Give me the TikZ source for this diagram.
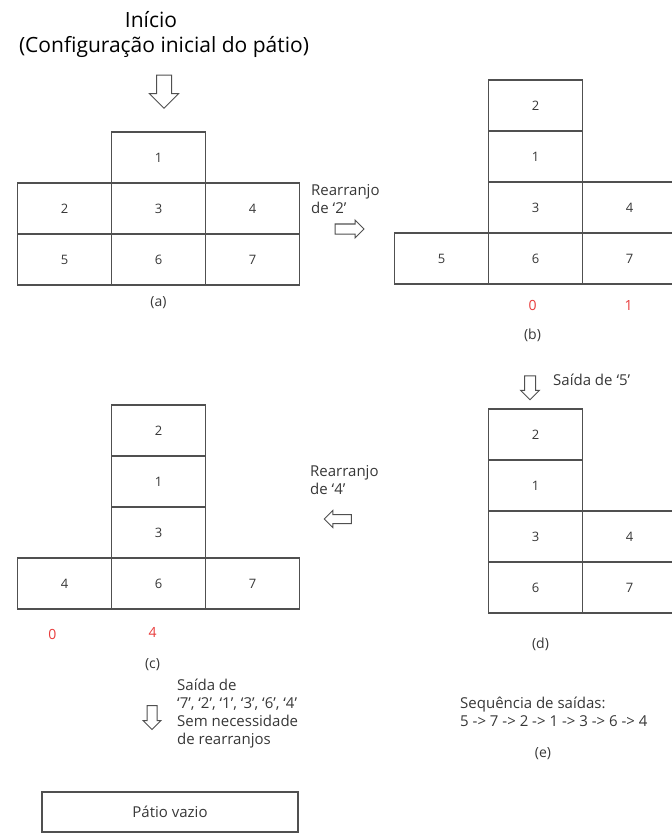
\documentclass[tikz,border=0pt]{standalone}
\usepackage{fontspec}
\setmainfont{Open Sans}
\usetikzlibrary{positioning,shapes.arrows}
\definecolor{gridgray}{RGB}{80,80,80}
\definecolor{txtgray}{RGB}{55,55,55}
\definecolor{cntred}{RGB}{232,60,60}

\begin{document}
\begin{tikzpicture}[x=1pt,y=-1pt,node distance=0pt,
  cell/.style={draw=gridgray, line width=1.3pt, minimum width=94pt, minimum height=51pt, inner sep=0pt, outer sep=0pt, text=txtgray, font=\fontsize{13}{15}\selectfont},
  note/.style={align=left, anchor=west, inner sep=0pt, text=txtgray, font=\fontsize{15}{18}\selectfont},
  lbl/.style={text=txtgray, font=\fontsize{14}{16}\selectfont},
  cnt/.style={text=cntred, font=\fontsize{14}{16}\selectfont},
  blk/.style={single arrow, draw=gridgray, fill=white, line width=1pt, inner xsep=0pt, inner ysep=4.5pt, single arrow head extend=4pt},
  blkdown/.style={blk, shape border rotate=270, inner ysep=0pt, inner xsep=#1}]
  \useasboundingbox (0,0) rectangle (671,834);

  % titulo
  \node [font=\fontsize{21}{25}\selectfont] (ini) at (151,20) {Início};
  \node [font=\fontsize{21}{25}\selectfont] (cfg) at (164,47) {(Configuração inicial do pátio)};
  \node [blkdown=7pt, minimum height=33pt, minimum width=28pt, single arrow head extend=7pt] (arrA) at (164,88) {};

  % (a)
  \node [cell] (a3) at (158.5,208.5) {3};
  \node [cell, above=of a3] (a1) {1};
  \node [cell, left=of a3] (a2) {2};
  \node [cell, right=of a3] (a4) {4};
  \node [cell, below=of a3] (a6) {6};
  \node [cell, left=of a6] (a5) {5};
  \node [cell, right=of a6] (a7) {7};
  \node [lbl, below=8pt of a6] (labA) {(a)};

  \node [note] (rearB) at (311,199) {Rearranjo\\de `2'};
  \node [blk, minimum height=29pt, minimum width=17pt] (arrB) at (347,229) {};

  % (b)
  \node [cell] (b6) at (535.5,258.5) {6};
  \node [cell, above=of b6] (b3) {3};
  \node [cell, above=of b3] (b1) {1};
  \node [cell, above=of b1] (b2) {2};
  \node [cell, left=of b6] (b5) {5};
  \node [cell, right=of b6] (b7) {7};
  \node [cell, right=of b3] (b4) {4};
  \node [cnt, below=13pt of b6, xshift=-3pt] (zb0) {0};
  \node [cnt, below=13pt of b7, xshift=-1pt] (zb1) {1};
  \node [lbl, below=41pt of b6, xshift=-3pt] (labB) {(b)};

  \node [blkdown=5pt, minimum height=24pt, minimum width=18pt] (arrD) at (530,385) {};
  \node [note] (saiD) at (553,380) {Saída de `5'};

  % (d)
  \node [cell] (d6) at (535.5,587.5) {6};
  \node [cell, above=of d6] (d3) {3};
  \node [cell, above=of d3] (d1) {1};
  \node [cell, above=of d1] (d2) {2};
  \node [cell, right=of d6] (d7) {7};
  \node [cell, right=of d3] (d4) {4};
  \node [lbl, below=21pt of d6, xshift=5pt] (labD) {(d)};

  \node [note] (rearC) at (310,480) {Rearranjo\\de `4'};
  \node [blk, shape border rotate=180, minimum height=27pt, minimum width=16pt, inner ysep=4pt] (arrC) at (340,519) {};

  % (c)
  \node [cell] (c6) at (158.5,583.5) {6};
  \node [cell, above=of c6] (c3) {3};
  \node [cell, above=of c3] (c1) {1};
  \node [cell, above=of c1] (c2) {2};
  \node [cell, left=of c6] (c4) {4};
  \node [cell, right=of c6] (c7) {7};
  \node [cnt, below=17pt of c4, xshift=-12pt] (zc0) {0};
  \node [cnt, below=15pt of c6, xshift=-6pt] (zc4) {4};
  \node [lbl, below=46pt of c6, xshift=-6pt] (labC) {(c)};

  \node [blkdown=4.5pt, minimum height=24pt, minimum width=17pt] (arrE) at (152,715) {};
  \node [note] (saiC) at (177,714) {Saída de\\`7', `2', `1', `3', `6', `4'\\Sem necessidade\\de rearranjos};

  \node [draw=gridgray, line width=1.3pt, minimum width=256pt, minimum height=40pt, text=txtgray, font=\fontsize{15}{18}\selectfont] (vazio) at (170,812) {Pátio vazio};

  % (e)
  \node [note] (seq) at (460,712) {Sequência de saídas:\\5 -> 7 -> 2 -> 1 -> 3 -> 6 -> 4};
  \node [lbl] (labE) at (543,754) {(e)};
\end{tikzpicture}
\end{document}
